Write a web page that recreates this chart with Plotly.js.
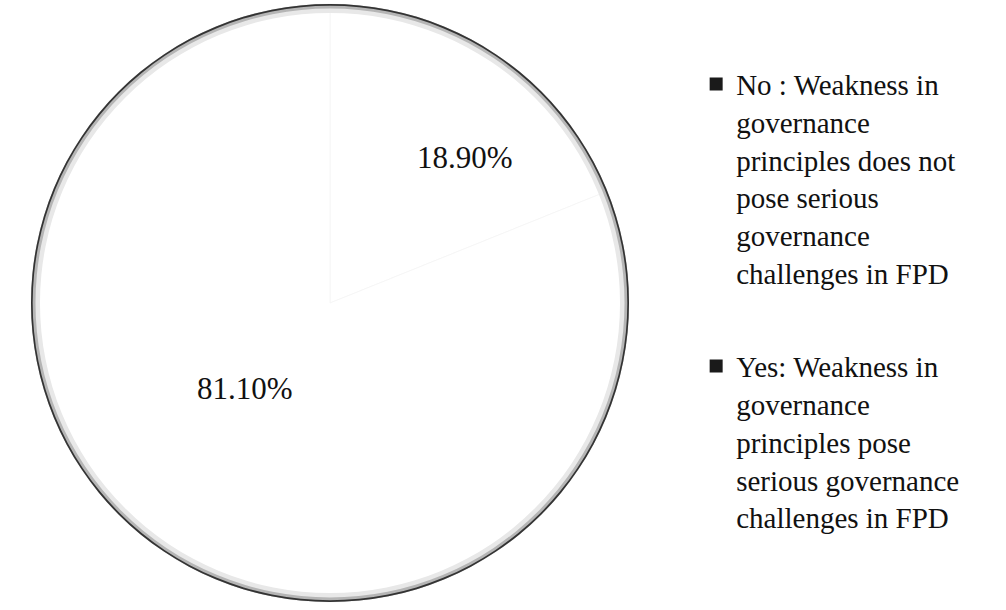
<!DOCTYPE html>
<html>
<head>
<meta charset="utf-8">
<script src="https://cdn.plot.ly/plotly-3.0.1.min.js"></script>
<style>html,body{margin:0;padding:0;background:#fff;}#chart{width:1006px;height:610px;}</style>
</head>
<body>
<div id="chart"></div>
<script>
const categories = [
  "No : Weakness in<br>governance<br>principles does not<br>pose serious<br>governance<br>challenges in FPD",
  "Yes: Weakness in<br>governance<br>principles pose<br>serious governance<br>challenges in FPD"
];
const values = [18.9, 81.1];

const W = 1006, H = 610;
const cx = 330, cy = 303, R = 299;
const dom = {x: [(cx - R) / W, (cx + R) / W], y: [(H - cy - R) / H, (H - cy + R) / H]};
const serif = "Liberation Serif";
// label anchor positions (pixels) for each slice's value label
const labelPos = [[465, 157], [245, 388]];

const traces = [
  {
    type: "pie", labels: categories, values: values, sort: false, direction: "clockwise", rotation: 0,
    domain: dom, showlegend: false, hoverinfo: "none", textinfo: "none",
    marker: {colors: ["#ffffff", "#ffffff"], line: {color: "#f6f6f6", width: 1}}
  },
  {
    type: "pie", labels: ["ring"], values: [1], hole: 0.97, sort: false, domain: dom,
    showlegend: false, hoverinfo: "none", textinfo: "none",
    marker: {colors: ["#e8e8e8"], line: {width: 0}}
  },
  {
    type: "pie", labels: ["ring2"], values: [1], hole: 0.985, sort: false, domain: dom,
    showlegend: false, hoverinfo: "none", textinfo: "none",
    marker: {colors: ["#b5b5b5"], line: {width: 0}}
  },
  {
    type: "pie", labels: ["edge"], values: [1], hole: 0.994, sort: false, domain: dom,
    showlegend: false, hoverinfo: "none", textinfo: "none",
    marker: {colors: ["#333333"], line: {width: 0}}
  }
];
categories.forEach((c, i) => {
  traces.push({
    type: "scatter", mode: "markers", x: [null], y: [null], name: c, legendgroup: "g" + i,
    marker: {symbol: "square", size: 13, color: "#1a1a1a"}, hoverinfo: "none"
  });
});

const annotations = values.map((v, i) => ({
  text: v.toFixed(2) + "%", xref: "paper", yref: "paper",
  x: labelPos[i][0] / W, y: 1 - labelPos[i][1] / H, xanchor: "center", yanchor: "middle",
  showarrow: false, font: {family: serif, size: 31, color: "#111111"}
}));

const layout = {
  width: W, height: H,
  margin: {l: 0, r: 0, t: 0, b: 0},
  paper_bgcolor: "#ffffff", plot_bgcolor: "#ffffff",
  font: {family: serif},
  xaxis: {visible: false}, yaxis: {visible: false},
  annotations: annotations,
  showlegend: true,
  legend: {
    x: 0.692, xanchor: "left", y: 0.904, yanchor: "top",
    font: {family: serif, size: 29, color: "#111111"},
    valign: "top", tracegroupgap: 53, traceorder: "grouped",
    bgcolor: "rgba(0,0,0,0)"
  }
};
Plotly.newPlot("chart", traces, layout, {displayModeBar: false, staticPlot: true});
</script>
</body>
</html>
